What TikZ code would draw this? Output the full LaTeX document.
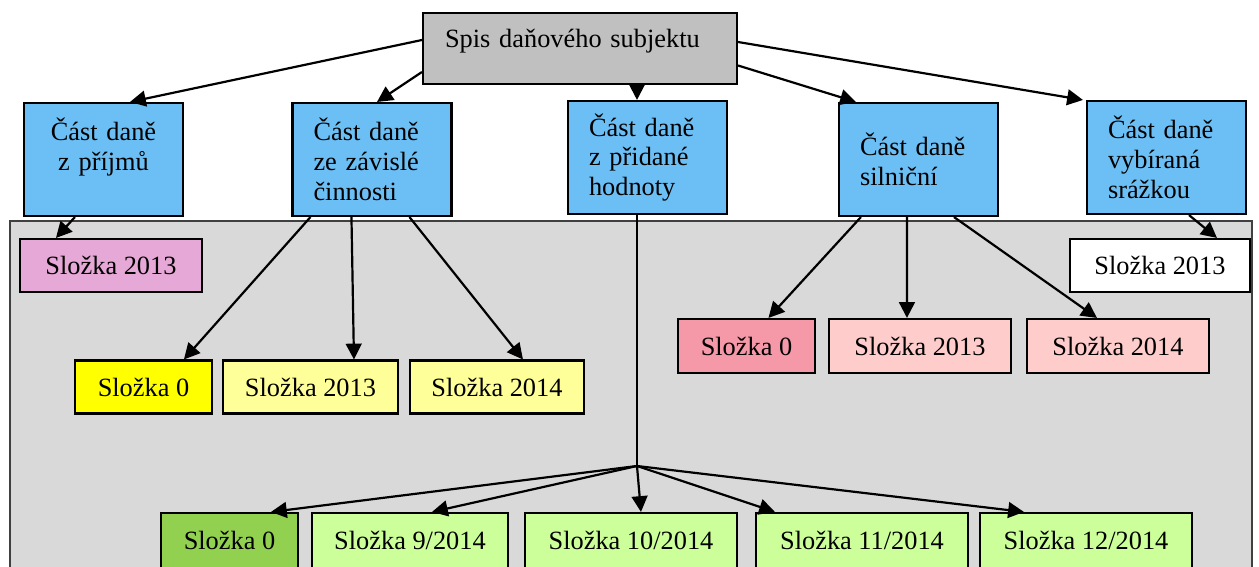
\documentclass[tikz,border=0pt]{standalone}
\usepackage{fontspec}
\setmainfont{Liberation Serif}
\usetikzlibrary{arrows.meta,calc}
\definecolor{spisgray}{RGB}{192,192,192}
\definecolor{castblue}{RGB}{108,191,245}
\definecolor{pozadi}{RGB}{217,217,217}
\definecolor{fialova}{RGB}{230,168,214}
\definecolor{zluta}{RGB}{255,255,0}
\definecolor{svzluta}{RGB}{255,255,153}
\definecolor{ruzova}{RGB}{245,152,168}
\definecolor{svruzova}{RGB}{255,204,204}
\definecolor{zelena}{RGB}{146,208,80}
\definecolor{svzelena}{RGB}{204,255,153}
\begin{document}
\begin{tikzpicture}[x=0.02cm, y=-0.02cm, font=\fontsize{15}{17}\selectfont,
        box/.style={draw=black, line width=1.2pt, inner sep=0pt},
        cast/.style={box, fill=castblue, minimum width=3.18cm, minimum height=2.26cm, inner xsep=0.42cm, text width=2.34cm, align=left},
        slozka/.style={box, minimum height=1.06cm},
        arr/.style={-{Triangle[length=9pt,width=9pt]}, line width=1.25pt}]
        \useasboundingbox (0,0) rectangle (1259,567);
        \draw[draw=black!75, line width=0.6pt, fill=pozadi] (10,221) rectangle (1252,620);

        \node [box, fill=spisgray, minimum height=1.42cm, inner xsep=0.44cm, text width=5.4cm, align=left, text height=0.70cm, text depth=0.72cm] (spis) at (580,48.5) {Spis daňového subjektu};

        \node [cast, align=center] (prijmy) at (103.5,159.5) {Část daně\\z příjmů\\\mbox{}};
        \node [cast] (zavisla) at (372,159.5) {Část daně\\ze závislé\\činnosti};
        \node [cast] (dph) at (647.5,157.5) {Část daně\\z přidané\\hodnoty};
        \node [cast] (silnicni) at (918.5,159.5) {Část daně\\silniční};
        \node [cast] (srazkova) at (1166.5,157.5) {Část daně\\vybíraná\\srážkou};

        \node [slozka, fill=fialova, minimum width=3.64cm] (prijmy13) at (111,265.5) {Složka 2013};
        \node [slozka, fill=white, minimum width=3.6cm] (srazkova13) at (1160,265.5) {Složka 2013};

        \node [slozka, fill=zluta, minimum width=2.74cm] (zavisla0) at (143.5,387) {Složka 0};
        \node [slozka, fill=svzluta, minimum width=3.5cm] (zavisla13) at (310.5,387) {Složka 2013};
        \node [slozka, fill=svzluta, minimum width=3.48cm] (zavisla14) at (497,387) {Složka 2014};

        \node [slozka, fill=ruzova, minimum width=2.74cm, minimum height=1.08cm] (silnicni0) at (746.5,346) {Složka 0};
        \node [slozka, fill=svruzova, minimum width=3.64cm, minimum height=1.08cm] (silnicni13) at (920,346) {Složka 2013};
        \node [slozka, fill=svruzova, minimum width=3.64cm, minimum height=1.08cm] (silnicni14) at (1118,346) {Složka 2014};

        \node [slozka, fill=zelena, minimum width=2.74cm, minimum height=1.1cm] (dph0) at (229.5,540.5) {Složka 0};
        \node [slozka, fill=svzelena, minimum width=3.92cm, minimum height=1.1cm] (dph9) at (410,540.5) {Složka 9/2014};
        \node [slozka, fill=svzelena, minimum width=4.24cm, minimum height=1.1cm] (dph10) at (631,540.5) {Složka 10/2014};
        \node [slozka, fill=svzelena, minimum width=4.24cm, minimum height=1.1cm] (dph11) at (862,540.5) {Složka 11/2014};
        \node [slozka, fill=svzelena, minimum width=4.24cm, minimum height=1.1cm] (dph12) at (1086,540.5) {Složka 12/2014};

        \coordinate (uzel) at (637,466);

        % od spisu k castem
        \draw[arr] ($(spis.west)+(0,-8.5)$) -- ($(prijmy.north)+(26.5,0)$);
        \draw[arr] ($(spis.west)+(0,23.5)$) -- ($(zavisla.north)+(5,0)$);
        \draw[arr] (spis.south -| uzel) -- (dph.north -| uzel);
        \draw[arr] ($(spis.east)+(0,17)$) -- ($(silnicni.north west)+(18,0)$);
        \draw[arr] ($(spis.east)+(0,-6.5)$) -- ($(srazkova.north west)+(-3,0)$);

        % od casti ke slozkam
        \draw[arr] ($(prijmy.south west)+(52,0)$) -- ($(prijmy13.north west)+(37,0)$);
        \draw[arr] ($(srazkova.south west)+(103,0)$) -- ($(srazkova13.north west)+(148,0)$);
        \draw[arr] ($(zavisla.south west)+(19,0)$) -- ($(zavisla0.north west)+(110,0)$);
        \draw[arr] ($(zavisla.south west)+(60,0)$) -- ($(zavisla13.north west)+(132,0)$);
        \draw[arr] ($(zavisla.south west)+(118,0)$) -- ($(zavisla14.north west)+(114,0)$);
        \draw[arr] ($(silnicni.south west)+(23,0)$) -- ($(silnicni0.north west)+(91.5,0)$);
        \draw[arr] ($(silnicni.south west)+(69,0)$) -- ($(silnicni13.north west)+(79,0)$);
        \draw[arr] ($(silnicni.south west)+(116,0)$) -- ($(silnicni14.north west)+(71,0)$);

        \draw[line width=0.7pt] (dph.south -| uzel) -- (uzel);
        \draw[arr] (uzel) -- ($(dph0.north west)+(111,0)$);
        \draw[arr] (uzel) -- ($(dph9.north west)+(121,0)$);
        \draw[arr] (uzel) -- ($(dph10.north west)+(117,0)$);
        \draw[arr] (uzel) -- ($(dph11.north west)+(20,0)$);
        \draw[arr] (uzel) -- ($(dph12.north west)+(45,0)$);
\end{tikzpicture}
\end{document}
